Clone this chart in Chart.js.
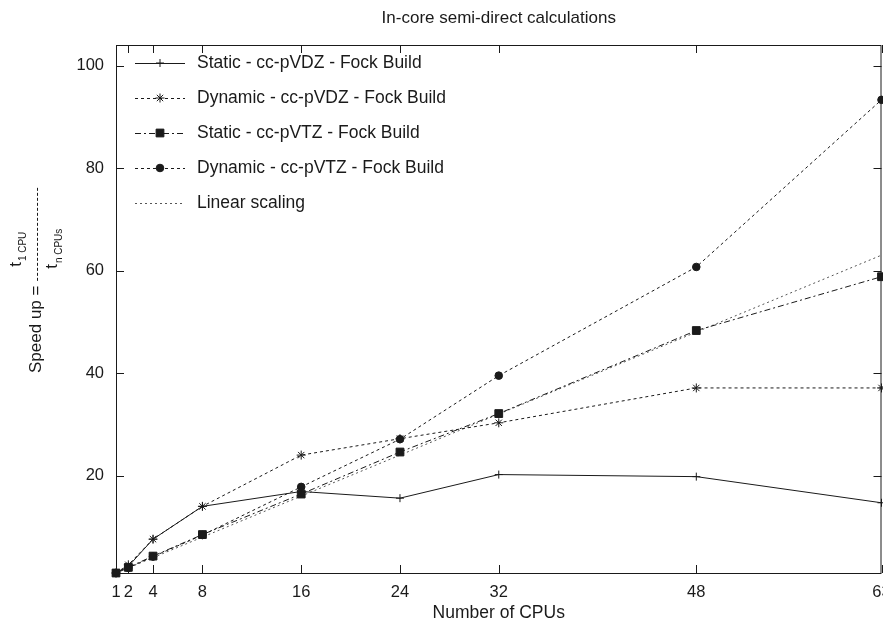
<!DOCTYPE html>
<html>
<head>
<meta charset="utf-8">
<script src="https://cdn.jsdelivr.net/npm/chart.js@4"></script>
<style>
  html, body { margin: 0; padding: 0; background: #fff; overflow: hidden; }
  #wrap { width: 883px; height: 625px; overflow: hidden; }
</style>
</head>
<body>
<div id="wrap"><canvas id="chartSpeedup" width="888" height="625"></canvas></div>
<script>
// ─── Data ──────────────────────────────────────
var cpus = [1, 2, 4, 8, 16, 24, 32, 48, 63];
var staticVDZ = [1, 2.3, 7.6, 14.0, 16.9, 15.6, 20.2, 19.8, 14.7];
var dynamicVDZ = [1, 2.6, 7.6, 14.0, 24.0, 27.2, 30.3, 37.1, 37.1];
var staticVTZ = [1, 2.1, 4.3, 8.5, 16.4, 24.6, 32.1, 48.3, 58.8];
var dynamicVTZ = [1, 2.0, 4.2, 8.4, 17.8, 27.1, 39.5, 60.7, 93.3];
var linearScaling = [1, 2, 4, 8, 16, 24, 32, 48, 63];
var yTicks = [20, 40, 60, 80, 100];
var seriesLabels = [
  'Static - cc-pVDZ - Fock Build',
  'Dynamic - cc-pVDZ - Fock Build',
  'Static - cc-pVTZ - Fock Build',
  'Dynamic - cc-pVTZ - Fock Build',
  'Linear scaling'
];

var FONT = '"Liberation Sans", Arial, Helvetica, sans-serif';
var INK = '#1a1a1a';

function pts(ys) {
  return cpus.map(function (c, i) { return { x: c, y: ys[i] }; });
}

function serie(label, ys, dash, style, radius) {
  return {
    label: label,
    data: pts(ys),
    borderColor: INK,
    backgroundColor: INK,
    borderWidth: 1,
    borderDash: dash,
    pointStyle: style,
    pointRadius: radius,
    pointBorderWidth: 1,
    pointBorderColor: INK,
    pointBackgroundColor: INK,
    showLine: true,
    tension: 0,
    clip: false
  };
}

var datasets = [
  serie(seriesLabels[0], staticVDZ, [], 'cross', 4),
  serie(seriesLabels[1], dynamicVDZ, [3, 3], 'star', 4.5),
  serie(seriesLabels[2], staticVTZ, [6, 3, 2, 3], 'rect', 5.5),
  serie(seriesLabels[3], dynamicVTZ, [3, 3], 'circle', 3.8),
  serie(seriesLabels[4], linearScaling, [2, 3], false, 0)
];
datasets[4].borderColor = '#555';

// ─── Frame, inner ticks, title, legend ─────────
var gnuplotDecor = {
  id: 'gnuplotDecor',
  afterDraw: function (chart) {
    var ctx = chart.ctx;
    var a = chart.chartArea;
    var xs = chart.scales.x, ys = chart.scales.y;
    ctx.save();
    ctx.strokeStyle = INK;
    ctx.lineWidth = 1;
    ctx.setLineDash([]);
    ctx.strokeRect(a.left + 0.5, a.top + 0.5, a.right - a.left - 1, a.bottom - a.top);

    // inward ticks, mirrored
    ctx.beginPath();
    cpus.forEach(function (c) {
      var px = Math.round(xs.getPixelForValue(c)) + 0.5;
      ctx.moveTo(px, a.bottom); ctx.lineTo(px, a.bottom - 8);
      ctx.moveTo(px, a.top); ctx.lineTo(px, a.top + 8);
    });
    yTicks.forEach(function (v) {
      var py = Math.round(ys.getPixelForValue(v)) + 0.5;
      ctx.moveTo(a.left, py); ctx.lineTo(a.left + 8, py);
      ctx.moveTo(a.right, py); ctx.lineTo(a.right - 8, py);
    });
    ctx.stroke();

    // chart title
    ctx.fillStyle = INK;
    ctx.font = '17px ' + FONT;
    ctx.textAlign = 'center';
    ctx.textBaseline = 'middle';
    ctx.fillText('In-core semi-direct calculations', (a.left + a.right) / 2, 18);

    // y axis title: Speed up = t_1CPU / t_nCPUs
    ctx.translate(36, 373);
    ctx.rotate(-Math.PI / 2);
    ctx.textAlign = 'left';
    ctx.font = '17px ' + FONT;
    var lead = 'Speed up = ';
    ctx.fillText(lead, 0, 0);
    var w1 = ctx.measureText(lead).width;
    ctx.beginPath();
    ctx.setLineDash([3, 2]);
    ctx.moveTo(w1, 1.5); ctx.lineTo(w1 + 93, 1.5);
    ctx.stroke();
    ctx.setLineDash([]);
    var tw = ctx.measureText('t').width;
    ctx.fillText('t', w1 + 14, -20);
    ctx.fillText('t', w1 + 12, 16);
    ctx.font = '10px ' + FONT;
    ctx.fillText('1 CPU', w1 + 15 + tw, -13);
    ctx.fillText('n CPUs', w1 + 13 + tw, 23);
    ctx.restore();

    // legend
    ctx.save();
    ctx.font = '17.5px ' + FONT;
    ctx.textBaseline = 'middle';
    ctx.textAlign = 'left';
    ctx.fillStyle = INK;
    chart.data.datasets.forEach(function (ds, i) {
      var y = 63 + i * 35;
      ctx.beginPath();
      ctx.strokeStyle = ds.borderColor;
      ctx.lineWidth = 1;
      ctx.setLineDash(ds.borderDash);
      ctx.moveTo(135, y + 0.5); ctx.lineTo(185, y + 0.5);
      ctx.stroke();
      ctx.setLineDash([]);
      if (ds.pointStyle) {
        ctx.strokeStyle = INK;
        ctx.fillStyle = INK;
        Chart.helpers.drawPoint(ctx, { pointStyle: ds.pointStyle, radius: ds.pointRadius, borderWidth: 1, rotation: 0 }, 160, y);
      }
      ctx.fillStyle = INK;
      ctx.fillText(ds.label, 197, y);
    });
    ctx.restore();
  }
};

new Chart(document.getElementById('chartSpeedup'), {
  type: 'scatter',
  data: { datasets: datasets },
  options: {
    responsive: false,
    animation: false,
    layout: { padding: { top: 45, right: 0, bottom: 0, left: 0 } },
    plugins: {
      legend: { display: false },
      tooltip: { enabled: false },
      title: { display: false }
    },
    scales: {
      x: {
        type: 'linear',
        min: 1,
        max: 63,
        grid: { display: false, drawTicks: false },
        border: { display: false },
        afterBuildTicks: function (scale) {
          scale.ticks = cpus.map(function (c) { return { value: c }; });
        },
        afterFit: function (scale) {
          scale.height = 52;
          scale.paddingLeft = 0;
          scale.paddingRight = 0;
        },
        ticks: {
          autoSkip: false,
          maxRotation: 0,
          padding: 10,
          color: INK,
          font: { family: FONT, size: 16.5 }
        },
        title: {
          display: true,
          text: 'Number of CPUs',
          color: INK,
          font: { family: FONT, size: 17.5 },
          padding: { top: 0, bottom: 1 }
        }
      },
      y: {
        min: 1,
        max: 104,
        grid: { display: false, drawTicks: false },
        border: { display: false },
        afterBuildTicks: function (scale) {
          scale.ticks = yTicks.map(function (v) { return { value: v }; });
        },
        afterFit: function (scale) {
          scale.width = 116;
          scale.paddingTop = 0;
          scale.paddingBottom = 0;
        },
        ticks: {
          padding: 12,
          color: INK,
          font: { family: FONT, size: 16.5 }
        }
      }
    }
  },
  plugins: [gnuplotDecor]
});
</script>
</body>
</html>
